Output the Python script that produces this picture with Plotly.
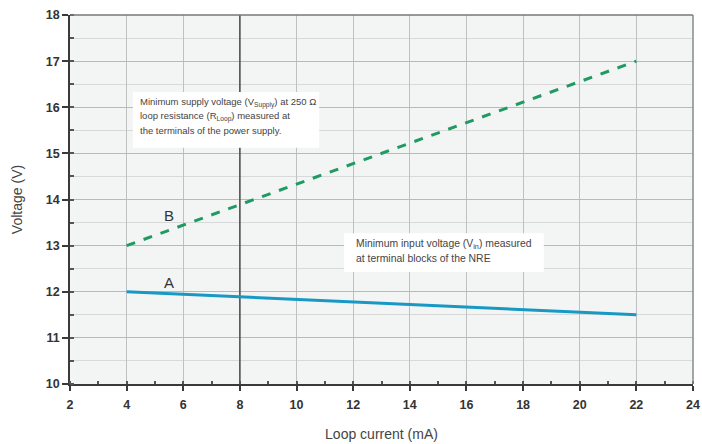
import plotly.graph_objects as go

# Data
current_a = [4, 22]
voltage_a = [12.0, 11.5]
current_b = [4, 22]
voltage_b = [13.0, 17.0]

x_ticks = [2, 4, 6, 8, 10, 12, 14, 16, 18, 20, 22, 24]
y_ticks = [10, 11, 12, 13, 14, 15, 16, 17, 18]
marker_x = 8

note_b_lines = ["Minimum supply voltage (V<sub>Supply</sub>) at 250 Ω",
                "loop resistance (R<sub>Loop</sub>) measured at",
                "the terminals of the power supply."]
note_a_lines = ["Minimum input voltage (V<sub>in</sub>) measured",
                "at terminal blocks of the NRE"]

fig = go.Figure()
fig.add_trace(go.Scatter(x=current_b, y=voltage_b, mode="lines",
                         line=dict(color="#1f9a62", width=3, dash="dash"),
                         showlegend=False))
fig.add_trace(go.Scatter(x=current_a, y=voltage_a, mode="lines",
                         line=dict(color="#1898c4", width=3),
                         showlegend=False))

font_tick = dict(family="Liberation Sans, Arial, sans-serif", size=12.5, color="#333333", weight="bold")

annotations = [
    dict(x=5.5, y=12.2, xref="x", yref="y", text="A", showarrow=False,
         font=dict(size=15, color="#333333")),
    dict(x=5.5, y=13.65, xref="x", yref="y", text="B", showarrow=False,
         font=dict(size=15, color="#333333")),
]
for i, line in enumerate(note_b_lines):
    annotations.append(dict(x=4.39, y=16.11 - i * 0.31, xref="x", yref="y",
                            xanchor="left", yanchor="middle", text=line, showarrow=False,
                            font=dict(size=9.5, color="#444444")))
for i, line in enumerate(note_a_lines):
    annotations.append(dict(x=12.04, y=13.03 - i * 0.30, xref="x", yref="y",
                            xanchor="left", yanchor="middle", text=line, showarrow=False,
                            font=dict(size=10.4, color="#444444")))

fig.update_layout(
    width=702, height=444,
    margin=dict(l=70, r=9, t=15, b=60),
    paper_bgcolor="white",
    plot_bgcolor="#f3f5f5",
    font=dict(family="Liberation Sans, Arial, sans-serif", color="#333333"),
    xaxis=dict(
        range=[2, 24], tickvals=x_ticks, ticktext=[str(v) for v in x_ticks],
        showgrid=True, gridcolor="#bfc1c1", gridwidth=1, automargin=False,
        showline=True, linecolor="#3a3a3a", linewidth=1.5,
        ticks="outside", ticklen=5, tickwidth=2, tickcolor="#3a3a3a",
        tickfont=font_tick, zeroline=False, ticklabelstandoff=3,
        minor=dict(dtick=1, ticks="inside", ticklen=3, tickwidth=2, tickcolor="#555555", showgrid=False),
        title=dict(text="Loop current (mA)", font=dict(size=14, color="#444444"), standoff=18),
    ),
    yaxis=dict(
        range=[10, 18], tickvals=y_ticks, ticktext=[str(v) for v in y_ticks],
        showgrid=True, gridcolor="#b8baba", gridwidth=1,
        showline=True, linecolor="#3a3a3a", linewidth=1.5,
        ticks="outside", ticklen=6, tickwidth=2, tickcolor="#3a3a3a",
        tickfont=font_tick, zeroline=False,
        minor=dict(dtick=0.5, ticks="inside", ticklen=4, tickwidth=2, tickcolor="#555555",
                   showgrid=True, gridcolor="#d8dada"),
        title=dict(text="Voltage (V)", font=dict(size=14, color="#444444"), standoff=20),
    ),
    shapes=[
        dict(type="line", xref="x", yref="y", x0=marker_x, x1=marker_x, y0=10, y1=18,
             line=dict(color="#4a4a4a", width=1.5), layer="between"),
        dict(type="rect", xref="x", yref="y", x0=4.22, x1=10.8, y0=15.12, y1=16.33,
             fillcolor="white", line=dict(width=0), layer="between"),
        dict(type="rect", xref="x", yref="y", x0=11.68, x1=18.73, y0=12.43, y1=13.27,
             fillcolor="white", line=dict(width=0), layer="between"),
        dict(type="line", xref="paper", yref="paper", x0=0, x1=1, y0=1, y1=1,
             line=dict(color="#777777", width=1.5)),
        dict(type="line", xref="paper", yref="paper", x0=1, x1=1, y0=0, y1=1,
             line=dict(color="#888888", width=1.5)),
    ],
    annotations=annotations,
)

fig.write_html("out.html")
